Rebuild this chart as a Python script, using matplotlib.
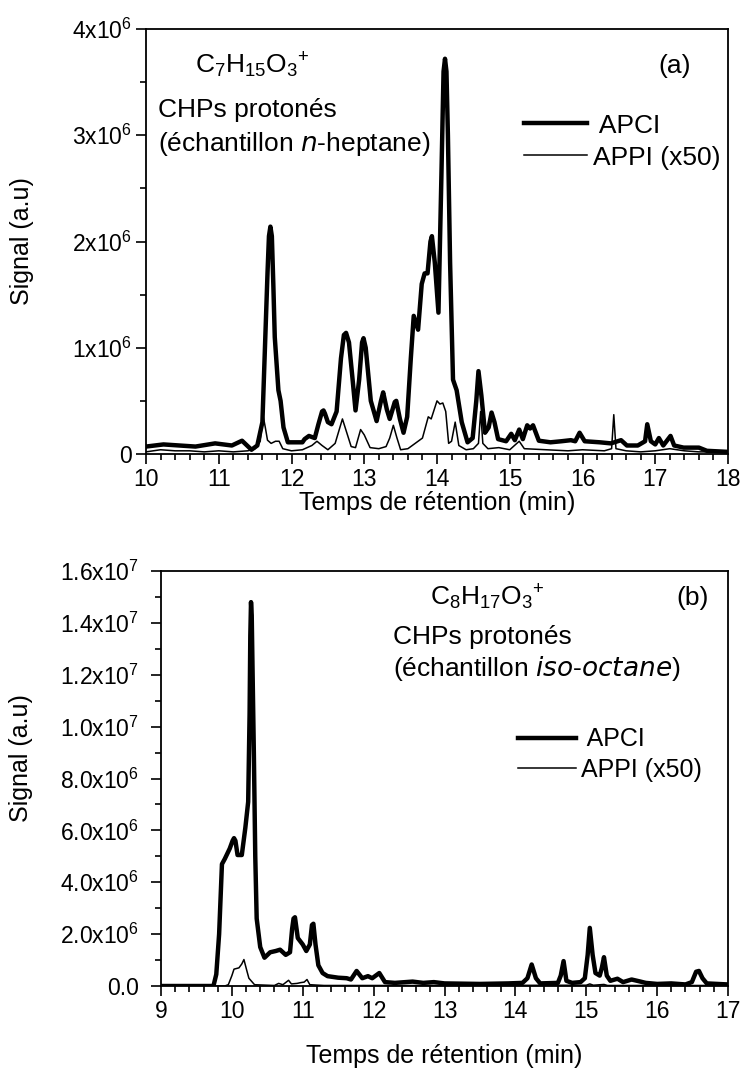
import numpy as np
import matplotlib.pyplot as plt
from matplotlib.ticker import MultipleLocator, FixedLocator, FixedFormatter

# ---- panel (a): n-heptane sample, retention time (min) / signal (x1e6)
t_apci_a = [10.0, 10.24, 10.68, 10.95, 11.18, 11.32, 11.45, 11.53, 11.6, 11.63, 11.67,
            11.69, 11.71, 11.73, 11.75, 11.77, 11.82, 11.85, 11.89, 11.95, 12.0, 12.15,
            12.18, 12.24, 12.32, 12.37, 12.42, 12.44, 12.46, 12.5, 12.55, 12.62, 12.68,
            12.72, 12.75, 12.79, 12.84, 12.88, 12.93, 12.97, 12.99, 13.02, 13.09, 13.17,
            13.23, 13.26, 13.31, 13.35, 13.42, 13.44, 13.49, 13.54, 13.59, 13.64, 13.68,
            13.74, 13.79, 13.83, 13.87, 13.91, 13.93, 13.97, 14.02, 14.06, 14.09, 14.11,
            14.13, 14.15, 14.18, 14.22, 14.27, 14.34, 14.42, 14.49, 14.54, 14.57, 14.61,
            14.66, 14.71, 14.75, 14.79, 14.84, 14.95, 15.02, 15.07, 15.13, 15.18, 15.24,
            15.28, 15.32, 15.4, 15.56, 15.71, 15.84, 15.9, 15.96, 16.03, 16.24, 16.39,
            16.53, 16.61, 16.76, 16.86, 16.89, 16.94, 17.0, 17.05, 17.11, 17.21, 17.26,
            17.39, 17.6, 17.71, 18.0]
s_apci_a = [0.07, 0.09, 0.07, 0.10, 0.08, 0.125, 0.04, 0.08, 0.3, 0.9, 1.7,
            2.05, 2.14, 2.05, 1.6, 1.1, 0.6, 0.5, 0.25, 0.11, 0.11, 0.11,
            0.14, 0.17, 0.15, 0.28, 0.40, 0.41, 0.38, 0.3, 0.28, 0.4, 0.9,
            1.12, 1.14, 1.05, 0.7, 0.41, 0.7, 1.05, 1.09, 1.0, 0.5, 0.31,
            0.5, 0.58, 0.42, 0.33, 0.49, 0.5, 0.33, 0.2, 0.35, 0.9, 1.30,
            1.17, 1.6, 1.70, 1.70, 2.0, 2.05, 1.8, 1.33, 2.6, 3.6, 3.72,
            3.6, 3.0, 1.8, 0.7, 0.6, 0.3, 0.11, 0.15, 0.5, 0.78, 0.55,
            0.2, 0.25, 0.39, 0.3, 0.14, 0.12, 0.19, 0.13, 0.23, 0.14, 0.27,
            0.24, 0.27, 0.125, 0.11, 0.12, 0.13, 0.12, 0.2, 0.12, 0.11, 0.1,
            0.13, 0.08, 0.08, 0.12, 0.28, 0.12, 0.09, 0.15, 0.08, 0.17, 0.08,
            0.06, 0.06, 0.03, 0.02]

t_appi_a = [10.0, 10.2, 10.4, 10.6, 10.8, 11.0, 11.2, 11.4, 11.5, 11.57, 11.61, 11.64,
            11.67, 11.72, 11.78, 11.83, 11.88, 12.0, 12.15, 12.28, 12.35, 12.42, 12.5,
            12.6, 12.7, 12.76, 12.82, 12.88, 12.95, 13.0, 13.08, 13.2, 13.3, 13.35, 13.4,
            13.45, 13.5, 13.6, 13.7, 13.8, 13.88, 13.92, 14.0, 14.04, 14.08, 14.12, 14.16,
            14.2, 14.25, 14.3, 14.4, 14.5, 14.57, 14.6, 14.63, 14.7, 14.85, 15.0, 15.13,
            15.2, 15.5, 15.8, 16.0, 16.3, 16.4, 16.43, 16.46, 16.6, 16.8, 17.0, 17.2,
            17.4, 17.6, 18.0]
s_appi_a = [0.02, 0.04, 0.03, 0.03, 0.02, 0.03, 0.02, 0.03, 0.05, 0.12, 0.36, 0.25,
            0.13, 0.1, 0.12, 0.12, 0.05, 0.03, 0.04, 0.08, 0.12, 0.08, 0.04,
            0.1, 0.33, 0.2, 0.07, 0.06, 0.23, 0.18, 0.06, 0.05, 0.07, 0.15, 0.27,
            0.15, 0.04, 0.05, 0.1, 0.15, 0.35, 0.33, 0.5, 0.47, 0.48, 0.4, 0.1,
            0.12, 0.3, 0.08, 0.04, 0.05, 0.1, 0.4, 0.1, 0.05, 0.06, 0.04, 0.12,
            0.05, 0.04, 0.03, 0.04, 0.03, 0.05, 0.37, 0.05, 0.03, 0.02, 0.03, 0.05,
            0.03, 0.02, 0.02]

# ---- panel (b): iso-octane sample, signal (x1e6)
t_apci_b = [9.0, 9.5, 9.74, 9.78, 9.82, 9.86, 9.9, 9.97, 10.01, 10.03, 10.05, 10.08,
            10.14, 10.19, 10.23, 10.25, 10.26, 10.27, 10.28, 10.29, 10.31, 10.33, 10.35,
            10.4, 10.46, 10.54, 10.62, 10.68, 10.76, 10.82, 10.85, 10.87, 10.89, 10.93,
            11.0, 11.05, 11.1, 11.13, 11.15, 11.18, 11.22, 11.28, 11.35, 11.5, 11.62,
            11.68, 11.76, 11.84, 11.92, 11.98, 12.08, 12.16, 12.3, 12.55, 12.7, 12.85,
            13.0, 13.5, 13.9, 14.1, 14.17, 14.23, 14.29, 14.35, 14.6, 14.64, 14.68,
            14.72, 14.8, 14.92, 14.98, 15.02, 15.05, 15.09, 15.13, 15.19, 15.22, 15.25,
            15.29, 15.34, 15.44, 15.52, 15.64, 15.75, 15.84, 16.0, 16.2, 16.4, 16.49,
            16.55, 16.59, 16.64, 16.7, 17.0]
s_apci_b = [0.0, 0.0, 0.0, 0.45, 2.0, 4.7, 4.9, 5.3, 5.6, 5.7, 5.6, 5.05,
            5.05, 6.1, 7.1, 10.5, 13.5, 14.8, 14.3, 12.5, 9.0, 5.0, 2.6,
            1.5, 1.09, 1.3, 1.35, 1.4, 1.2, 1.3, 2.2, 2.6, 2.65, 1.85,
            1.6, 1.35, 1.6, 2.35, 2.4, 1.6, 0.8, 0.5, 0.38, 0.32, 0.3,
            0.25, 0.58, 0.3, 0.38, 0.3, 0.5, 0.15, 0.12, 0.17, 0.12, 0.15,
            0.1, 0.08, 0.1, 0.12, 0.3, 0.83, 0.3, 0.1, 0.12, 0.4, 0.96,
            0.2, 0.12, 0.15, 0.3, 1.2, 2.24, 1.2, 0.5, 0.4, 0.7, 1.11,
            0.4, 0.2, 0.28, 0.15, 0.25, 0.18, 0.12, 0.08, 0.1, 0.06, 0.15,
            0.55, 0.58, 0.3, 0.1, 0.06]

t_appi_b = [9.0, 9.9, 9.95, 10.0, 10.03, 10.1, 10.14, 10.17, 10.21, 10.24, 10.32, 10.6,
            10.66, 10.72, 10.8, 10.84, 10.92, 10.97, 11.02, 11.06, 11.1, 11.3, 13.0,
            15.0, 15.05, 15.1, 15.25, 15.3, 17.0]
s_appi_b = [0.0, 0.0, 0.05, 0.4, 0.65, 0.7, 0.85, 1.02, 0.6, 0.3, 0.05, 0.02,
            0.1, 0.05, 0.22, 0.08, 0.1, 0.13, 0.15, 0.25, 0.05, 0.02, 0.02,
            0.03, 0.08, 0.03, 0.06, 0.02, 0.02]

yticks_a = [0, 1e6, 2e6, 3e6, 4e6]
ylabels_a = ['0', r'1x10$^6$', r'2x10$^6$', r'3x10$^6$', r'4x10$^6$']
yticks_b = [0, 2e6, 4e6, 6e6, 8e6, 1e7, 1.2e7, 1.4e7, 1.6e7]
ylabels_b = ['0.0', r'2.0x10$^6$', r'4.0x10$^6$', r'6.0x10$^6$', r'8.0x10$^6$',
             r'1.0x10$^7$', r'1.2x10$^7$', r'1.4x10$^7$', r'1.6x10$^7$']

plt.rcParams['font.family'] = 'Liberation Sans'
plt.rcParams['mathtext.default'] = 'regular'
TICK_FS = 16.5
LABEL_FS = 18
TEXT_FS = 19

fig = plt.figure(figsize=(7.45, 10.72), dpi=100)
W, H = 745, 1072
ax1 = fig.add_axes([146 / W, 1 - 454 / H, (728 - 146) / W, (454 - 29) / H])
ax2 = fig.add_axes([161 / W, 1 - 986 / H, (728 - 161) / W, (986 - 571) / H])


def style(ax, xlim, ylim, yticks, ylabels, yminor, ypad):
    ax.set_xlim(*xlim)
    ax.set_ylim(*ylim)
    ax.xaxis.set_major_locator(MultipleLocator(1))
    ax.xaxis.set_minor_locator(MultipleLocator(0.2))
    ax.yaxis.set_major_locator(FixedLocator(yticks))
    ax.yaxis.set_major_formatter(FixedFormatter(ylabels))
    ax.yaxis.set_minor_locator(MultipleLocator(yminor))
    ax.tick_params(which='both', direction='out', top=False, right=False,
                   labelsize=TICK_FS, width=1.2)
    ax.tick_params(which='major', length=7, pad=3)
    ax.tick_params(axis='y', which='major', pad=ypad)
    ax.tick_params(which='minor', length=4)
    for sp in ax.spines.values():
        sp.set_linewidth(1.3)
    ax.set_xlabel('Temps de rétention (min)', fontsize=LABEL_FS)
    ax.set_ylabel('Signal (a.u)', fontsize=LABEL_FS)


ax1.plot(t_apci_a, np.array(s_apci_a) * 1e6, color='black', lw=3.2, label=' APCI',
         solid_joinstyle='round')
ax1.plot(t_appi_a, np.array(s_appi_a) * 1e6, color='black', lw=1.1, label='APPI (x50)')
style(ax1, (10, 18), (0, 4e6), yticks_a, ylabels_a, 0.5e6, 3)
ax1.yaxis.set_label_coords(-0.192, 0.5)
ax1.xaxis.set_label_coords(0.5, -0.088)
ax1.text(0.084, 0.915, r'$C_7H_{15}O_3{}^{+}$', transform=ax1.transAxes,
         ha='left', va='center', fontsize=TEXT_FS)
ax1.text(0.021, 0.81, 'CHPs protonés', transform=ax1.transAxes,
         ha='left', va='center', fontsize=TEXT_FS)
ax1.text(0.021, 0.73, r'(échantillon $\it{n}$-heptane)', transform=ax1.transAxes,
         ha='left', va='center', fontsize=TEXT_FS)
ax1.text(0.909, 0.913, '(a)', transform=ax1.transAxes,
         ha='center', va='center', fontsize=TEXT_FS)
ax1.legend(loc='center left', bbox_to_anchor=(0.649, 0.735), frameon=False,
           fontsize=TEXT_FS, handlelength=2.4, handletextpad=0.23, labelspacing=0.3,
           borderpad=0, borderaxespad=0)

ax2.plot(t_apci_b, np.array(s_apci_b) * 1e6, color='black', lw=3.2, label=' APCI',
         solid_joinstyle='round')
ax2.plot(t_appi_b, np.array(s_appi_b) * 1e6, color='black', lw=1.1, label='APPI (x50)')
style(ax2, (9, 17), (0, 1.6e7), yticks_b, ylabels_b, 1e6, 9)
ax2.yaxis.set_label_coords(-0.226, 0.55)
ax2.xaxis.set_label_coords(0.5, -0.14)
ax2.text(0.474, 0.937, r'$C_8H_{17}O_3{}^{+}$', transform=ax2.transAxes,
         ha='left', va='center', fontsize=TEXT_FS)
ax2.text(0.409, 0.841, 'CHPs protonés', transform=ax2.transAxes,
         ha='left', va='center', fontsize=TEXT_FS)
ax2.text(0.409, 0.766, r'(échantillon $\it{iso}$-$\it{octane}$)', transform=ax2.transAxes,
         ha='left', va='center', fontsize=TEXT_FS)
ax2.text(0.938, 0.935, '(b)', transform=ax2.transAxes,
         ha='center', va='center', fontsize=TEXT_FS)
ax2.legend(loc='center left', bbox_to_anchor=(0.63, 0.558), frameon=False,
           fontsize=18, handlelength=2.3, handletextpad=0.23, labelspacing=0.25,
           borderpad=0, borderaxespad=0)

fig.savefig('out.png', dpi=100, facecolor='white')
